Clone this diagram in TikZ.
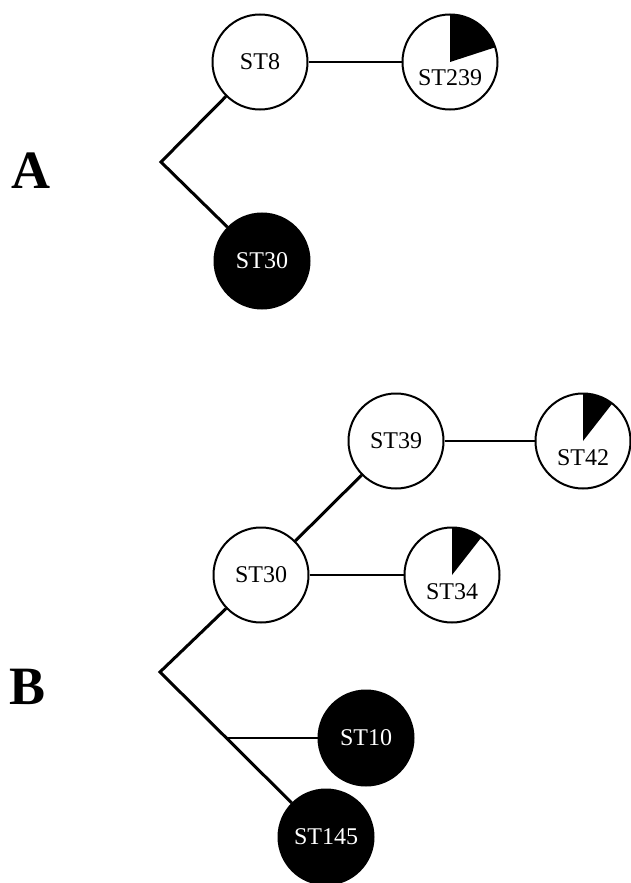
\documentclass[tikz,border=0pt]{standalone}
\usepackage{fontspec}
\setmainfont{Liberation Serif}
\usetikzlibrary{positioning}
\tikzset{
	st/.style={circle, draw, line width=1pt, minimum size=47.5pt, inner sep=0pt, font=\fontsize{12}{14}\selectfont},
	stblack/.style={st, fill=black, text=white},
	stpie/.style={st, text height=26pt, text depth=2pt, path picture={\fill (path picture bounding box.center) -- ++(90:1cm) arc[start angle=90, end angle=#1, radius=1cm] -- cycle;}},
	link/.style={line width=0.9pt},
	stem/.style={line width=1.5pt},
	panel/.style={font=\fontsize{27}{30}\selectfont\bfseries, inner sep=0pt}
}
\begin{document}
\begin{tikzpicture}[x=0.5pt, y=-0.5pt]
		\useasboundingbox (0,0) rectangle (631,883);
		\node[panel] (A) at (31,171) {A};
		\node[st] (st8) at (260,62) {ST8};
		\node[stpie=18] (st239) at (450,62) {ST239};
		\node[stblack] (st30a) at (262,261) {ST30};
		\coordinate (bendA) at (161,162);
		\draw[link] (st8) -- (st239);
		\draw[stem] (st8) -- (bendA) -- (st30a);
		\node[panel] (B) at (28,687) {B};
		\node[st] (st39) at (396,441) {ST39};
		\node[stpie=52] (st42) at (583,441) {ST42};
		\node[st] (st30b) at (261,575) {ST30};
		\node[stpie=52] (st34) at (452,575) {ST34};
		\node[stblack] (st10) at (366,738) {ST10};
		\node[stblack] (st145) at (326,837) {ST145};
		\coordinate (bendB) at (160,672);
		\coordinate (fork) at (226,738);
		\draw[link] (st39) -- (st42);
		\draw[link] (st30b) -- (st34);
		\draw[stem] (st30b) -- (st39);
		\draw[stem] (st30b) -- (bendB) -- (st145);
		\draw[link] (fork) -- (st10);
\end{tikzpicture}
\end{document}
